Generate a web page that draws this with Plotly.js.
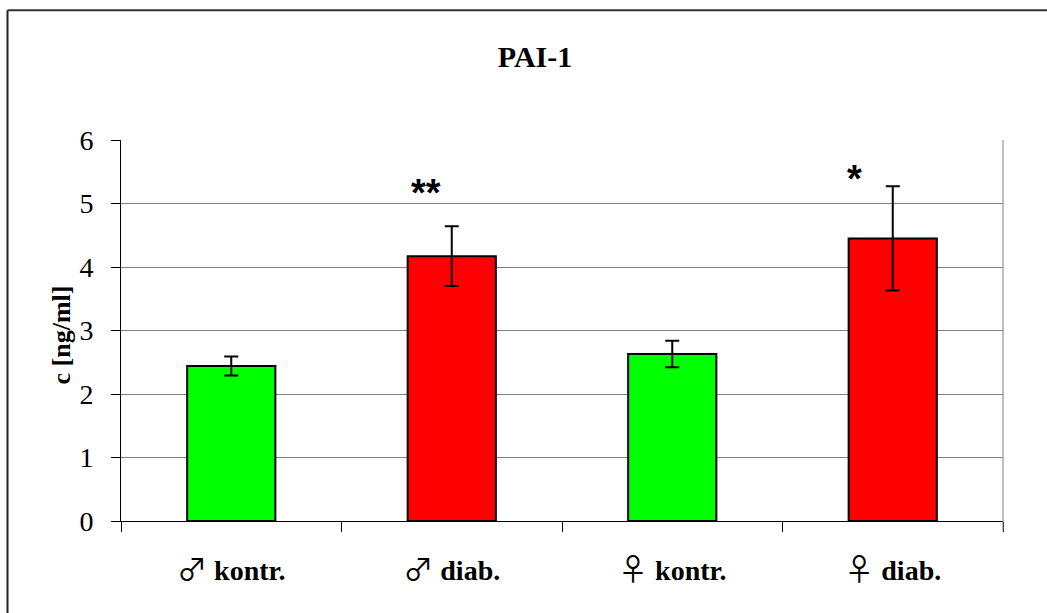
<!DOCTYPE html>
<html>
<head>
<meta charset="utf-8">
<script src="https://cdn.plot.ly/plotly-3.0.1.min.js"></script>
<style>
  html, body { margin: 0; padding: 0; background: #fff; }
  #chart { width: 1047px; height: 613px; }
</style>
</head>
<body>
<div id="chart"></div>
<script>
// PAI-1 concentration by group (mean ± error)
const groups = ["♂ kontr.", "♂ diab.", "♀ kontr.", "♀ diab."];
const groupSymbols = ["♂", "♂", "♀", "♀"];
const groupNames = ["kontr.", "diab.", "kontr.", "diab."];
const means = [2.44, 4.17, 2.63, 4.45];
const errors = [0.15, 0.47, 0.21, 0.82];
const barColors = ["#00ff00", "#ff0000", "#00ff00", "#ff0000"];
const significance = ["", "**", "", "*"];
const yTicks = [0, 1, 2, 3, 4, 5, 6];

const tickText = groups.map((g, i) =>
  '<span style="font-size:30px;font-family:Noto Sans CJK JP">' + groupSymbols[i] + "</span> <b>" + groupNames[i] + "</b>");

const serif = "Liberation Serif";

const trace = {
  type: "bar",
  x: groups,
  y: means,
  marker: { color: barColors, line: { color: "#000", width: 2 } },
  error_y: { type: "data", array: errors, visible: true, color: "#000", thickness: 2, width: 7 },
  hoverinfo: "x+y"
};

// plot area: 121..1003 px horizontally, 139.5..521.5 px vertically
const W = 1047, H = 613, L = 121, R = 44, T = 139.5, B = 91.5;
const pw = W - L - R, ph = H - T - B;
const px = v => (v - L) / pw;          // pixel x -> paper x
const py = v => (H - B - v) / ph;      // pixel y -> paper y

// star annotations placed over the diabetic groups
const starPos = { 1: { y: 5.17, shift: -26 }, 3: { y: 5.39, shift: -38 } };
const annotations = [];
significance.forEach((s, i) => {
  if (!s) return;
  annotations.push({
    x: groups[i], y: starPos[i].y, xref: "x", yref: "y",
    text: s, showarrow: false, xshift: starPos[i].shift,
    font: { family: "Liberation Sans", size: 38, color: "#000", weight: "bold" }
  });
});
annotations.push({
  x: px(45), y: py(335), xref: "paper", yref: "paper",
  text: "<b>c [ng/ml]</b>", textangle: -90, showarrow: false,
  font: { family: serif, size: 26, color: "#000" }
});

const layout = {
  width: W, height: H,
  margin: { l: L, r: R, t: T, b: B, pad: 0 },
  paper_bgcolor: "#fff", plot_bgcolor: "#fff",
  showlegend: false,
  bargap: 0.6,
  font: { family: serif, color: "#000" },
  title: {
    text: "PAI-1",
    x: 535 / W, xref: "container", xanchor: "center",
    y: 1 - 56 / H, yref: "container", yanchor: "middle",
    font: { family: serif, size: 30, color: "#000", weight: "bold" }
  },
  xaxis: {
    type: "category",
    categoryorder: "array", categoryarray: groups,
    tickvals: groups, ticktext: tickText,
    tickson: "boundaries", ticks: "outside", ticklen: 10, tickcolor: "#000", tickwidth: 1,
    showline: true, linecolor: "#000", linewidth: 1,
    showgrid: false, zeroline: false,
    tickfont: { family: serif, size: 28, color: "#000" },
    ticklabelstandoff: 24,
    range: [-0.5, 3.5], fixedrange: true
  },
  yaxis: {
    range: [0, 6], tickvals: yTicks, ticktext: yTicks.map(String),
    ticks: "outside", ticklen: 9, tickcolor: "#000", tickwidth: 1,
    showline: true, linecolor: "#000", linewidth: 1,
    showgrid: true, gridcolor: "#808080", gridwidth: 1,
    zeroline: false,
    tickfont: { family: serif, size: 28, color: "#000" },
    ticklabelstandoff: 12,
    fixedrange: true
  },
  annotations: annotations,
  shapes: [
    // chart frame (left and top edges)
    { type: "line", xref: "paper", yref: "paper", x0: px(7.5), x1: px(7.5), y0: py(9.5), y1: py(700), line: { color: "#222", width: 2 } },
    { type: "line", xref: "paper", yref: "paper", x0: px(7.5), x1: px(1100), y0: py(9.5), y1: py(9.5), line: { color: "#333", width: 2 } },
    // right edge of the plot area
    { type: "line", xref: "paper", yref: "paper", x0: 1, x1: 1, y0: py(532), y1: 1, line: { color: "#808080", width: 1 } }
  ]
};

Plotly.newPlot("chart", [trace], layout, { staticPlot: true, displayModeBar: false });
</script>
</body>
</html>
